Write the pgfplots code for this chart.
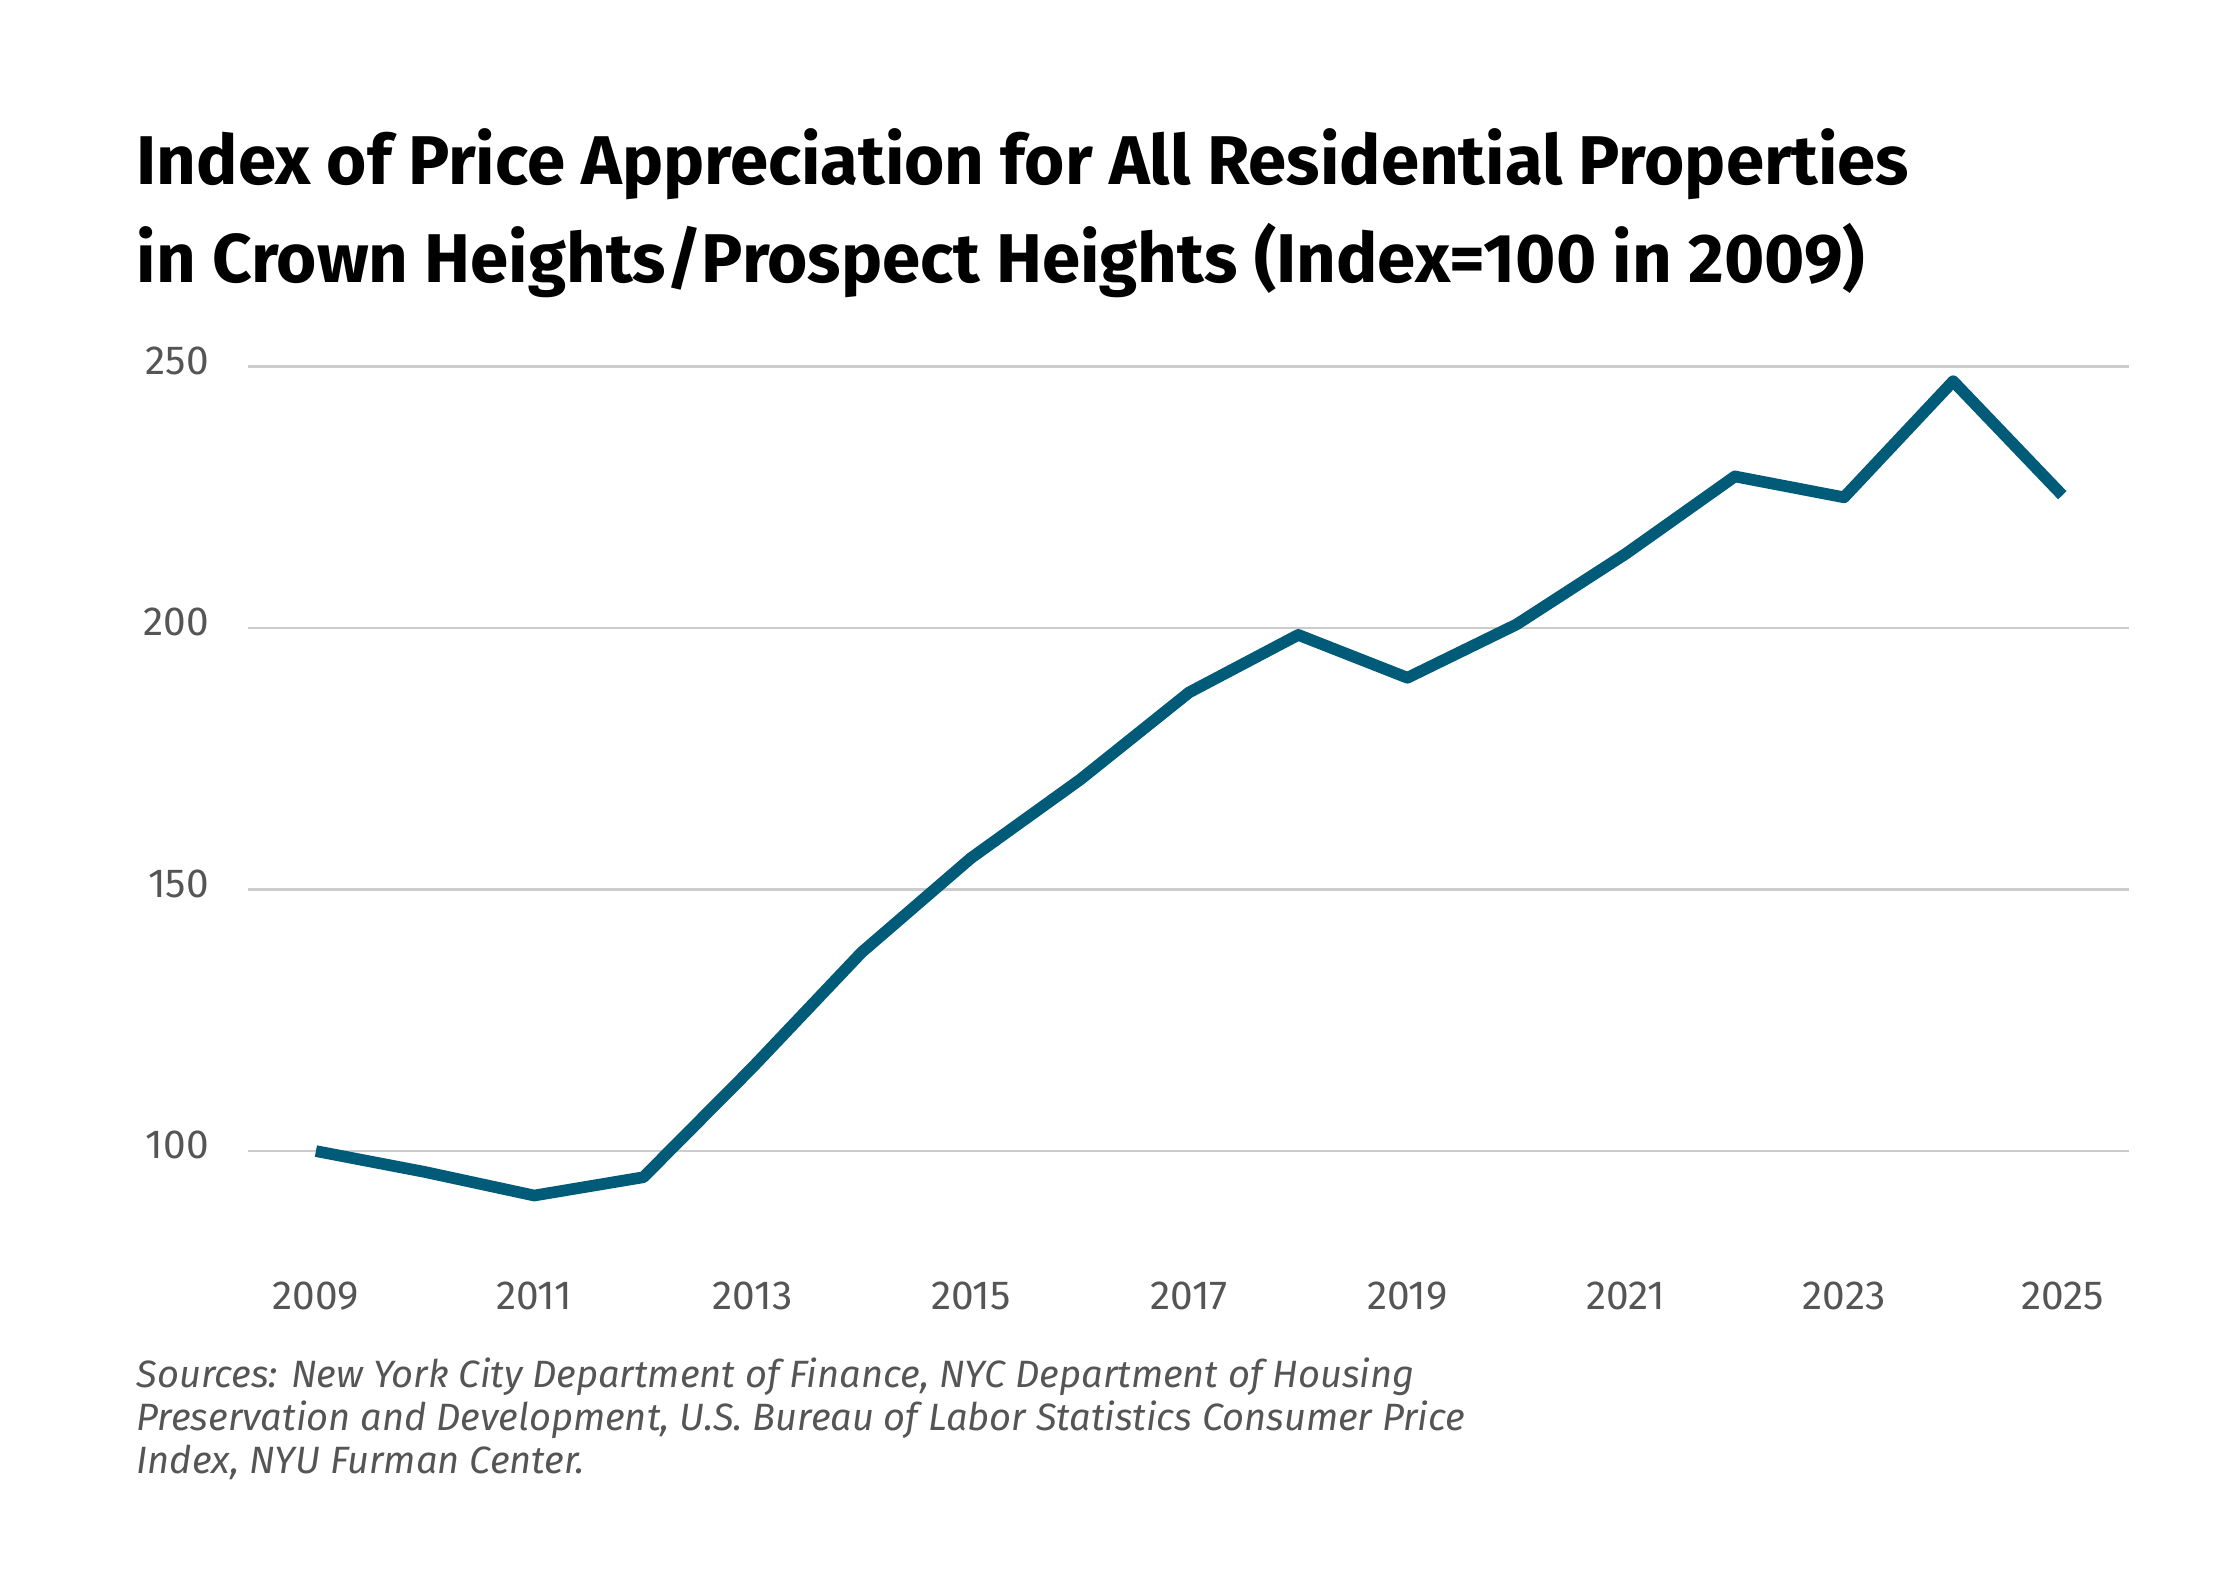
\documentclass[border=0pt]{standalone}
\usepackage{pgfplots}
\pgfplotsset{compat=1.18}
\usepackage{fontspec}
\setmainfont{Fira Sans}
\definecolor{lineblue}{HTML}{005B78}
\definecolor{tickgray}{HTML}{555555}
\begin{document}
\begin{tikzpicture}[x=1mm,y=1mm]
\path[use as bounding box] (0,0) rectangle (155.2,110);
\node[anchor=base west,inner sep=0,font=\bfseries\fontsize{13.6}{15}\selectfont] at (9.4,97.2) {Index of Price Appreciation for All Residential Properties};
\node[anchor=base west,inner sep=0,font=\bfseries\fontsize{13.6}{15}\selectfont] at (9.4,90.4) {in Crown Heights/Prospect Heights (Index=100 in 2009)};
\begin{axis}[at={(17.2mm,23mm)},anchor=south west,scale only axis,
  width=130.3mm,height=61.6mm,
  xmin=2008.38,xmax=2025.61,ymin=80,ymax=250,
  axis line style={draw=none},
  xtick={2009,2011,...,2025},ytick={100,150,200,250},
  major tick length=0pt,
  ymajorgrids,grid style={gray!40,line width=0.5pt},
  xticklabel style={font=\fontsize{8}{9}\selectfont,text=tickgray,yshift=-0.6mm},
  yticklabel style={font=\fontsize{8}{9}\selectfont,text=tickgray,xshift=-1.5mm,yshift=0.4mm},
  /pgf/number format/assume math mode=true,
  x tick label style={/pgf/number format/1000 sep={}},
  clip=false]
\addplot[lineblue,line width=2.3pt,line join=round] coordinates {
(2009,100)(2010,96)(2011,91.5)(2012,95)(2013,116)(2014,138)(2015,156)(2016,171)
(2017,187.7)(2018,198.7)(2019,190.5)(2020,200.7)(2021,214.2)(2022,229)(2023,225)
(2024,247.2)(2025,225.4)};
\end{axis}
\begin{scope}[every node/.style={anchor=base west,font=\itshape\fontsize{7.5}{9}\selectfont,text=tickgray,inner sep=0}]
\node at (9.4,13.9) {Sources: New York City Department of Finance, NYC Department of Housing};
\node at (9.4,10.9) {Preservation and Development, U.S. Bureau of Labor Statistics Consumer Price};
\node at (9.4,7.9) {Index, NYU Furman Center.};
\end{scope}
\end{tikzpicture}
\end{document}
